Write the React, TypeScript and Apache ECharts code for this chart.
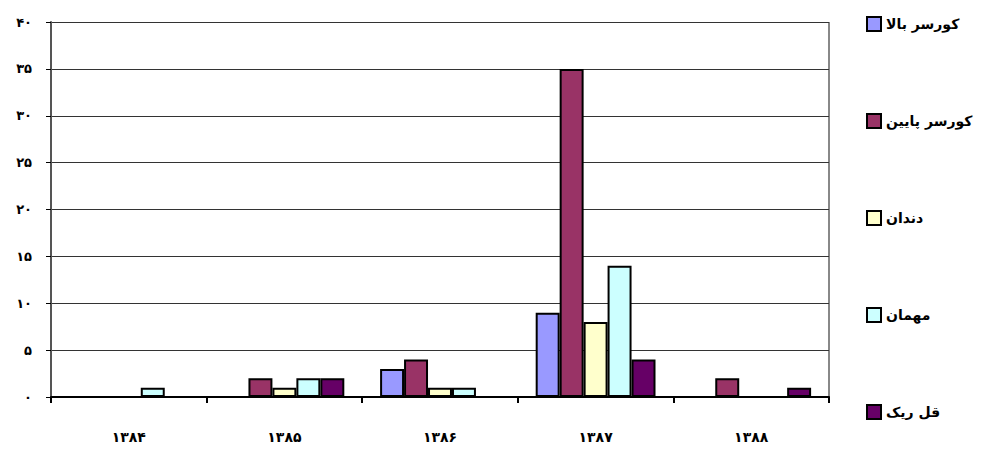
import React, { useEffect, useRef } from "react";
import * as echarts from "echarts";

const categories = ["۱۳۸۴", "۱۳۸۵", "۱۳۸۶", "۱۳۸۷", "۱۳۸۸"];
const seriesNames = ["کورسر بالا", "کورسر پایین", "دندان", "مهمان", "قل ریک"];
const seriesColors = ["#9999FF", "#993366", "#FFFFCC", "#CCFFFF", "#660066"];
const cursorUp = [null, null, 3, 9, null];
const cursorDown = [null, 2, 4, 35, 2];
const teeth = [null, 1, 1, 8, null];
const guest = [1, 2, 1, 14, null];
const qalRik = [null, 2, null, 4, 1];
const seriesValues = [cursorUp, cursorDown, teeth, guest, qalRik];
const persianDigits = ["۰", "۱", "۲", "۳", "۴", "۵", "۶", "۷", "۸", "۹"];
const toPersian = (n: number) => String(n).split("").map((c) => persianDigits[+c] ?? c).join("");

export default function App() {
  const ref = useRef<HTMLDivElement>(null);
  useEffect(() => {
    if (!ref.current) return;
    const chart = echarts.init(ref.current, null, { renderer: "svg" });
    const font = "DejaVu Sans";
    chart.setOption({
      animation: false,
      backgroundColor: "#ffffff",
      textStyle: { fontFamily: font },
      grid: { left: 51, right: 159, top: 22, bottom: 55, containLabel: false },
      legend: {
        orient: "vertical",
        left: 861,
        top: 11,
        itemWidth: 14,
        itemHeight: 14,
        itemGap: 81,
        icon: "rect",
        data: seriesNames,
        itemStyle: { borderColor: "#000", borderWidth: 2 },
        textStyle: { color: "#000", fontWeight: "bold", fontSize: 14, fontFamily: font },
      },
      xAxis: {
        type: "category",
        data: categories,
        axisLine: { show: true, lineStyle: { color: "#000", width: 2 } },
        axisTick: { show: true, length: 6, lineStyle: { color: "#000", width: 2 } },
        axisLabel: { color: "#000", fontWeight: "bold", fontSize: 14, margin: 33, fontFamily: font },
        splitLine: { show: false },
      },
      yAxis: {
        type: "value",
        min: 0,
        max: 40,
        interval: 5,
        axisLine: { show: true, lineStyle: { color: "#555", width: 2 } },
        axisTick: { show: true, inside: false, length: 5, lineStyle: { color: "#000", width: 1 } },
        axisLabel: { color: "#000", fontWeight: "bold", fontSize: 13, margin: 19, formatter: (v: number) => toPersian(v), fontFamily: font },
        splitLine: { show: true, lineStyle: { color: "#333", width: 1 } },
      },
      graphic: [
        {
          type: "line",
          shape: { x1: 829, y1: 22, x2: 829, y2: 397 },
          style: { stroke: "#888", lineWidth: 2 },
        },
      ],
      series: seriesNames.map((name, i) => ({
        name,
        type: "bar",
        data: seriesValues[i],
        barGap: "0%",
        barCategoryGap: "23%",
        itemStyle: { color: seriesColors[i], borderColor: "#000", borderWidth: 2 },
      })),
    });
    return () => chart.dispose();
  }, []);
  return <div ref={ref} style={{ width: 988, height: 452, position: "absolute", left: 0, top: 0 }} />;
}
